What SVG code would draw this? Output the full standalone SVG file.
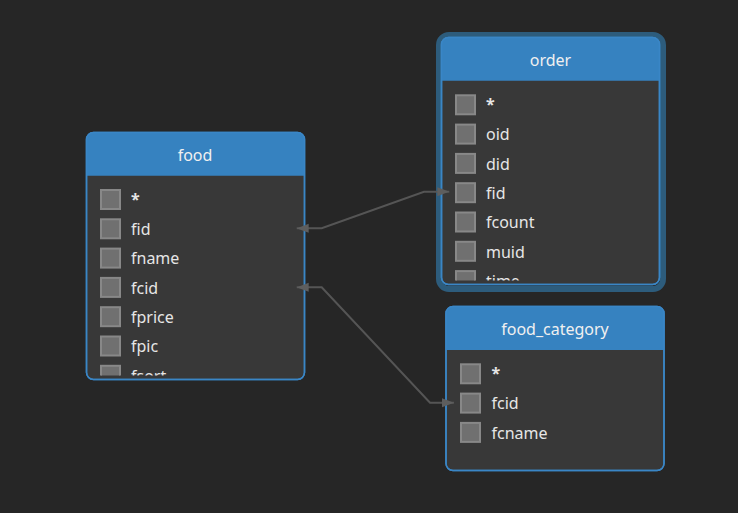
<svg xmlns="http://www.w3.org/2000/svg" width="738" height="513" viewBox="0 0 738 513">
<style>
  .bg{fill:#262626}
  .node{fill:#383838;stroke:#3a86c6;stroke-width:1.5}
  .hdr{fill:#3682c0}
  .title{font-family:"Noto Sans","Open Sans",sans-serif;font-size:16px;fill:#f0f0f0;text-anchor:middle}
  .lbl{font-family:"Noto Sans","Open Sans",sans-serif;font-size:16px;fill:#e6e6e6}
  .cb{fill:#707070;stroke:#888888;stroke-width:2}
  .edge{fill:none;stroke:#555555;stroke-width:2}
  .glow{fill:none;stroke:#2d5c7c;stroke-width:6}
</style>
<defs>
  <marker id="arr" viewBox="0 0 12 10" refX="12" refY="5" markerWidth="12" markerHeight="10" markerUnits="userSpaceOnUse" orient="auto-start-reverse">
    <path d="M0,0.5 L12,5 L0,9.5 z" fill="#5e5e5e"/>
  </marker>
  <clipPath id="cFood"><rect x="86" y="176" width="219" height="199.5"/></clipPath>
  <clipPath id="cOrder"><rect x="441" y="81" width="219" height="199.5"/></clipPath>
  <clipPath id="hFood"><rect x="86.5" y="132.5" width="218" height="43.2"/></clipPath>
  <clipPath id="hOrder"><rect x="441.5" y="37.5" width="218" height="43.2"/></clipPath>
  <clipPath id="hCat"><rect x="446" y="306.5" width="218" height="43.5"/></clipPath>
</defs>
<rect class="bg" x="0" y="0" width="738" height="513"/>

<g id="food">
  <rect class="node" x="86.5" y="132.5" width="218" height="247" rx="7"/>
  <rect class="hdr" x="86.5" y="132.5" width="218" height="60" rx="7" clip-path="url(#hFood)"/>
  <rect x="86.5" y="132.5" width="218" height="247" rx="7" fill="none" stroke="#3a86c6" stroke-width="1.5"/>
  <text class="title" x="195" y="161">food</text>
  <g clip-path="url(#cFood)">
    <rect class="cb" x="101" y="190" width="19" height="19"/><text class="lbl" x="131" y="205" font-weight="bold">*</text>
    <rect class="cb" x="101" y="219.3" width="19" height="19"/><text class="lbl" x="131" y="235">fid</text>
    <rect class="cb" x="101" y="248.6" width="19" height="19"/><text class="lbl" x="131" y="264.3">fname</text>
    <rect class="cb" x="101" y="277.9" width="19" height="19"/><text class="lbl" x="131" y="293.6">fcid</text>
    <rect class="cb" x="101" y="307.2" width="19" height="19"/><text class="lbl" x="131" y="322.9">fprice</text>
    <rect class="cb" x="101" y="336.5" width="19" height="19"/><text class="lbl" x="131" y="352.2">fpic</text>
    <rect class="cb" x="101" y="365.8" width="19" height="19"/><text class="lbl" x="131" y="381.5">fsort</text>
  </g>
</g>

<g id="order">
  <rect class="glow" x="439" y="35" width="224" height="254" rx="10"/>
  <rect class="node" x="441.5" y="37.5" width="218" height="247" rx="7"/>
  <rect class="hdr" x="441.5" y="37.5" width="218" height="60" rx="7" clip-path="url(#hOrder)"/>
  <rect x="441.5" y="37.5" width="218" height="247" rx="7" fill="none" stroke="#3a86c6" stroke-width="1.5"/>
  <text class="title" x="550.5" y="66">order</text>
  <g clip-path="url(#cOrder)">
    <rect class="cb" x="456" y="95.3" width="19" height="19"/><text class="lbl" x="486" y="110.3" font-weight="bold">*</text>
    <rect class="cb" x="456" y="124.6" width="19" height="19"/><text class="lbl" x="486" y="140.3">oid</text>
    <rect class="cb" x="456" y="153.9" width="19" height="19"/><text class="lbl" x="486" y="169.6">did</text>
    <rect class="cb" x="456" y="183.2" width="19" height="19"/><text class="lbl" x="486" y="198.9">fid</text>
    <rect class="cb" x="456" y="212.5" width="19" height="19"/><text class="lbl" x="486" y="228.2">fcount</text>
    <rect class="cb" x="456" y="241.8" width="19" height="19"/><text class="lbl" x="486" y="257.5">muid</text>
    <rect class="cb" x="456" y="271.1" width="19" height="19"/><text class="lbl" x="486" y="286.8">time</text>
  </g>
</g>

<g id="food_category">
  <rect class="node" x="446" y="306.5" width="218" height="164" rx="7"/>
  <rect class="hdr" x="446" y="306.5" width="218" height="60" rx="7" clip-path="url(#hCat)"/>
  <rect x="446" y="306.5" width="218" height="164" rx="7" fill="none" stroke="#3a86c6" stroke-width="1.5"/>
  <text class="title" x="555" y="335">food_category</text>
  <rect class="cb" x="461" y="364.3" width="19" height="19"/><text class="lbl" x="491.5" y="379.3" font-weight="bold">*</text>
  <rect class="cb" x="461" y="393.6" width="19" height="19"/><text class="lbl" x="491.5" y="409.3">fcid</text>
  <rect class="cb" x="461" y="422.9" width="19" height="19"/><text class="lbl" x="491.5" y="438.6">fcname</text>
</g>

<g id="connectors">
  <path class="edge" d="M296.7 228.3 L321.7 228.3 L424 191.7 L449.3 191.7" marker-start="url(#arr)" marker-end="url(#arr)"/>
  <path class="edge" d="M296.7 287.3 L321.7 287.3 L430 402.7 L454 402.7" marker-start="url(#arr)" marker-end="url(#arr)"/>
</g>
</svg>
